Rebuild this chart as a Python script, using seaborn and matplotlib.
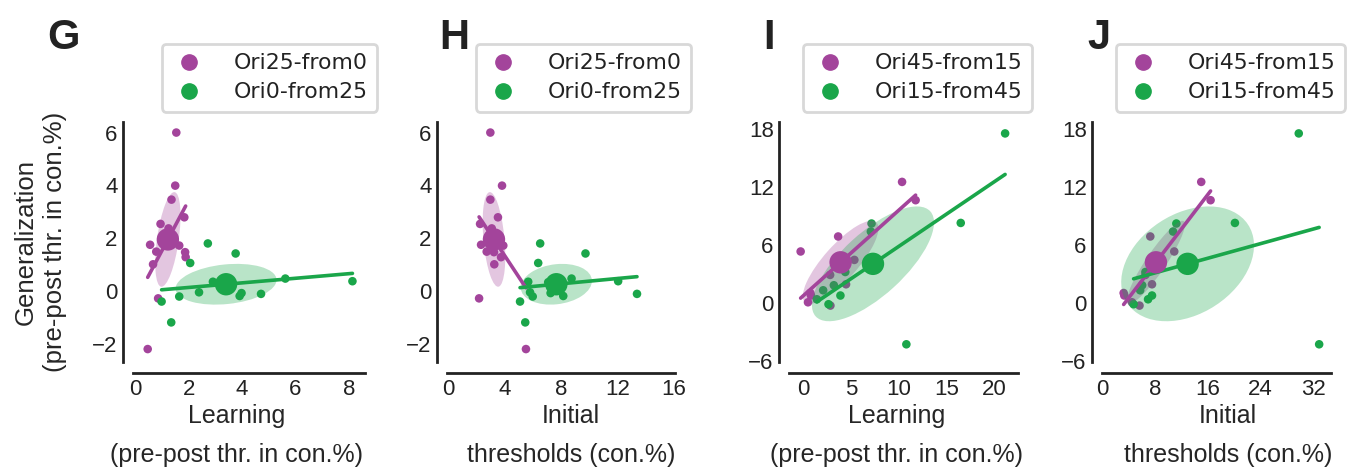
import numpy as np
import pandas as pd
import matplotlib
matplotlib.use("Agg")
import matplotlib.pyplot as plt
from matplotlib.patches import Ellipse
from matplotlib.lines import Line2D
import seaborn as sns

# ---------------- data ----------------
# Panels G/H : purple = Ori25-from0, green = Ori0-from25
learn_p25 = [1.54, 1.50, 1.36, 1.84, 0.95, 1.25, 0.56, 0.79, 1.87, 1.89, 0.67, 0.86, 0.47, 1.65, 1.10, 1.30]
init_p25 = [2.98, 3.81, 2.98, 3.52, 2.25, 3.08, 2.32, 2.72, 3.24, 3.74, 3.26, 2.18, 5.51, 3.90, 3.00, 3.30]
gen_p25 = [6.00, 3.99, 3.46, 2.79, 2.54, 2.37, 1.75, 1.49, 1.47, 1.28, 1.01, -0.28, -2.20, 1.72, 1.85, 2.00]

learn_g0 = [2.72, 3.76, 2.06, 2.91, 3.45, 5.62, 8.13, 2.39, 1.65, 3.98, 3.91, 4.71, 0.99, 1.35]
init_g0 = [6.52, 9.74, 6.38, 5.67, 7.09, 8.75, 12.06, 5.80, 5.99, 7.26, 8.16, 13.40, 5.09, 5.46]
gen_g0 = [1.80, 1.42, 1.06, 0.35, 0.33, 0.47, 0.37, -0.05, -0.21, -0.08, -0.19, -0.11, -0.40, -1.19]

# Panels I/J : purple = Ori45-from15, green = Ori15-from45
learn_p45 = [-0.28, 0.49, 0.73, 0.80, 3.65, 10.35, 11.77, 5.35, 2.81, 4.48, 2.84]
init_p45 = [10.88, 4.46, 3.19, 3.29, 7.24, 14.98, 16.40, 9.00, 6.50, 7.50, 5.60]
gen_p45 = [5.32, 0.07, 1.03, 0.77, 6.87, 12.51, 10.62, 4.45, 2.90, 1.93, -0.27]

learn_g15 = [21.15, 16.50, 10.80, 7.15, 7.08, 4.40, 2.08, 3.20, 1.42, 2.64, 3.89]
init_g15 = [29.80, 20.10, 32.90, 11.20, 10.70, 6.50, 5.70, 6.00, 6.90, 4.70, 7.50]
gen_g15 = [17.52, 8.27, -4.27, 8.21, 7.38, 3.20, 1.31, 1.83, 0.38, -0.13, 0.77]

labels_GH = ["Ori25-from0", "Ori0-from25"]
labels_IJ = ["Ori45-from15", "Ori15-from45"]
panel_letters = ["G", "H", "I", "J"]
xlabel_learn = "Learning\n(pre-post thr. in con.%)"
xlabel_init = "Initial\nthresholds (con.%)"
ylabel = "Generalization\n(pre-post thr. in con.%)"
xticks_G = [0, 2, 4, 6, 8]
xticks_H = [0, 4, 8, 12, 16]
xticks_I = [0, 5, 10, 15, 20]
xticks_J = [0, 8, 16, 24, 32]
yticks_GH = [-2, 0, 2, 4, 6]
yticks_IJ = [-6, 0, 6, 12, 18]

# ---------------- style ----------------
PURPLE = "#A3449B"
GREEN = "#1AA64A"
INK = "#222222"

sns.set_style("white")
plt.rcParams["font.family"] = ["Liberation Sans", "DejaVu Sans"]
plt.rcParams["axes.edgecolor"] = INK
plt.rcParams["text.color"] = INK
plt.rcParams["xtick.color"] = INK
plt.rcParams["ytick.color"] = INK

W, H = 1351, 470
fig = plt.figure(figsize=(W / 100, H / 100), dpi=100)


def px_axes(left, right, top, bottom):
    return fig.add_axes([left / W, 1 - bottom / H, (right - left) / W, (bottom - top) / H])


def cov_ellipse(ax, x, y, color):
    x = np.asarray(x)
    y = np.asarray(y)
    cov = np.cov(x, y)
    vals, vecs = np.linalg.eigh(cov)
    order = vals.argsort()[::-1]
    vals, vecs = vals[order], vecs[:, order]
    angle = np.degrees(np.arctan2(vecs[1, 0], vecs[0, 0]))
    w, h = 2 * np.sqrt(vals)
    e = Ellipse((x.mean(), y.mean()), w, h, angle=angle, facecolor=color,
                edgecolor="none", alpha=0.3, zorder=3)
    ax.add_patch(e)


def draw_group(ax, x, y, color):
    df = pd.DataFrame({"x": x, "y": y})
    sns.scatterplot(data=df, x="x", y="y", ax=ax, color=color, s=38,
                    edgecolor="none", linewidth=0, zorder=2, legend=False)
    cov_ellipse(ax, x, y, color)
    sns.regplot(data=df, x="x", y="y", ax=ax, scatter=False, ci=None,
                truncate=True, color=color, line_kws={"lw": 2.6, "zorder": 4})
    ax.scatter([np.mean(x)], [np.mean(y)], s=260, color=color,
               edgecolor="none", zorder=5)


panels = [
    dict(pos=(133, 365), groups=[(learn_p25, gen_p25), (learn_g0, gen_g0)],
         labels=labels_GH, xlim=(-0.08, 8.6), ylim=(-2.69, 6.4),
         xticks=xticks_G, yticks=yticks_GH, xlabel=xlabel_learn,
         legend_x=162, letter_x=47, label_x=0.445),
    dict(pos=(447, 675), groups=[(init_p25, gen_p25), (init_g0, gen_g0)],
         labels=labels_GH, xlim=(-0.1, 16.1), ylim=(-2.69, 6.4),
         xticks=xticks_H, yticks=yticks_GH, xlabel=xlabel_init,
         legend_x=476, letter_x=439, label_x=0.545),
    dict(pos=(789, 1018), groups=[(learn_p45, gen_p45), (learn_g15, gen_g15)],
         labels=labels_IJ, xlim=(-1.5, 22.5), ylim=(-6.1, 18.7),
         xticks=xticks_I, yticks=yticks_IJ, xlabel=xlabel_learn,
         legend_x=803, letter_x=763, label_x=0.47),
    dict(pos=(1102, 1331), groups=[(init_p45, gen_p45), (init_g15, gen_g15)],
         labels=labels_IJ, xlim=(-0.1, 34.7), ylim=(-6.1, 18.7),
         xticks=xticks_J, yticks=yticks_IJ, xlabel=xlabel_init,
         legend_x=1116, letter_x=1087, label_x=0.55),
]

for i, p in enumerate(panels):
    ax = px_axes(p["pos"][0], p["pos"][1], 122, 362)
    for (gx, gy), col in zip(p["groups"], [PURPLE, GREEN]):
        draw_group(ax, gx, gy, col)
    ax.set_xlim(*p["xlim"])
    ax.set_ylim(*p["ylim"])
    ax.set_xticks(p["xticks"])
    ax.set_yticks(p["yticks"])
    ax.tick_params(axis="both", length=0, labelsize=16, pad=4)
    ax.set_xlabel(p["xlabel"], fontsize=18, linespacing=1.8, labelpad=3)
    ax.xaxis.label.set_x(p["label_x"])
    if i == 0:
        ax.set_ylabel(ylabel, fontsize=18.5, linespacing=1.3, labelpad=18)
    else:
        ax.set_ylabel("")
    sns.despine(ax=ax, offset={"left": 7, "bottom": 8})
    for s in ("left", "bottom"):
        ax.spines[s].set_linewidth(2.0)
        ax.spines[s].set_color(INK)

    handles = [Line2D([], [], marker="o", linestyle="", color=c, markersize=11)
               for c in (PURPLE, GREEN)]
    leg = ax.legend(handles, p["labels"], loc="upper left",
                    bbox_to_anchor=(p["legend_x"] / W, 1 - 44 / H),
                    bbox_transform=fig.transFigure, borderaxespad=0,
                    frameon=True, fancybox=True, borderpad=0.42,
                    labelspacing=0.42, handletextpad=1.25, handlelength=1.6,
                    prop={"family": "DejaVu Sans", "size": 15.8})
    fr = leg.get_frame()
    fr.set_edgecolor("#d8d8d8")
    fr.set_linewidth(2.0)
    fr.set_facecolor("white")
    fr.set_alpha(1)

    fig.text(p["letter_x"] / W, 1 - 18 / H, panel_letters[i], fontsize=30,
             fontweight="bold", ha="left", va="top", color=INK)

fig.savefig("out.png", dpi=100)
